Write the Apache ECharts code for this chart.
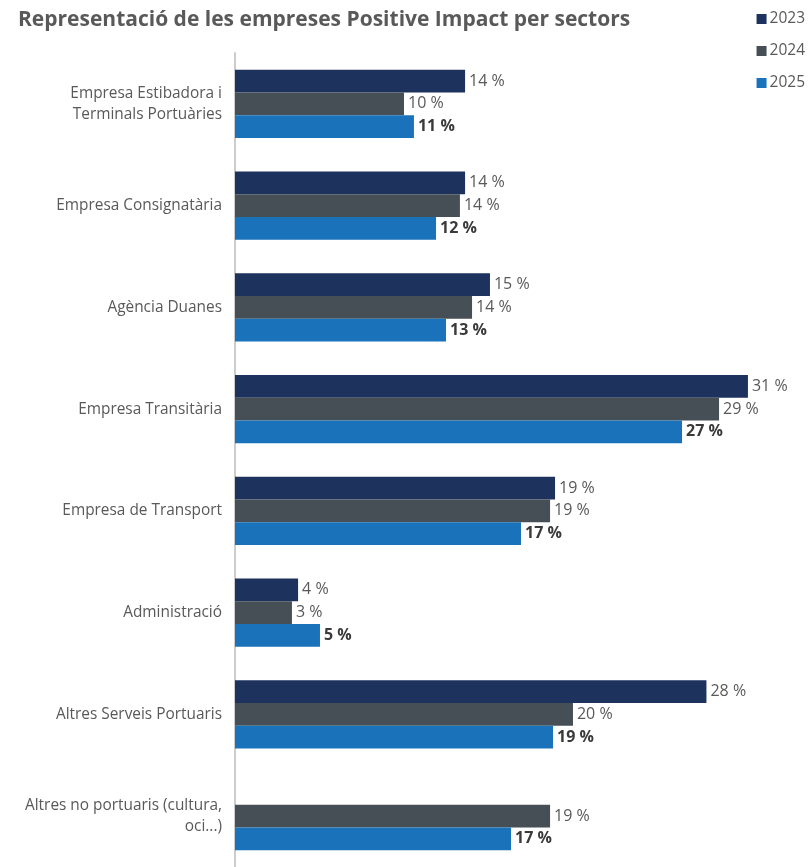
<!DOCTYPE html>
<html>
<head>
<meta charset="utf-8">
<script src="https://cdn.jsdelivr.net/npm/echarts@6/dist/echarts.min.js"></script>
<style>
html,body{margin:0;padding:0;background:#fff;}
#chart{width:810px;height:867px;}
</style>
</head>
<body>
<div id="chart"></div>
<script>
const titleText = 'Representació de les empreses Positive Impact per sectors';
const categories = [
  'Empresa Estibadora i\nTerminals Portuàries',
  'Empresa Consignatària',
  'Agència Duanes',
  'Empresa Transitària',
  'Empresa de Transport',
  'Administració',
  'Altres Serveis Portuaris',
  'Altres no portuaris (cultura,\noci...)'
];
const seriesNames = ['2023', '2024', '2025'];
const values2023 = [13.86, 13.86, 15.36, 30.9, 19.28, 3.8, 28.4, null];
const values2024 = [10.18, 13.55, 14.28, 29.16, 18.98, 3.43, 20.36, 18.98];
const values2025 = [10.78, 12.11, 12.71, 26.93, 17.23, 5.12, 19.16, 16.63];
const colors = ['#1d325d', '#474f56', '#1a73ba'];

const chart = echarts.init(document.getElementById('chart'), null, {renderer: 'canvas'});
const FONT = '"Open Sans", "Noto Sans", sans-serif';

function mkSeries(name, data, color, bold) {
  return {
    name: name,
    type: 'bar',
    data: data,
    barGap: '0%',
    barCategoryGap: '33%',
    itemStyle: {color: color},
    label: {
      show: true,
      position: 'right',
      distance: 4,
      fontFamily: FONT,
      fontSize: 16,
      fontWeight: bold ? 'bold' : 'normal',
      color: bold ? '#3a3a3a' : '#595959',
      formatter: p => (p.value == null ? '' : Math.round(p.value) + ' %')
    },
    emphasis: {disabled: true},
    animation: false
  };
}

chart.setOption({
  animation: false,
  title: {
    text: titleText,
    left: 13,
    top: 5,
    textStyle: {fontFamily: '"Liberation Sans Narrow", "Open Sans", sans-serif', fontSize: 21, fontWeight: 'bold', color: '#595959'}
  },
  legend: {
    data: seriesNames,
    orient: 'vertical',
    right: 0,
    top: 6,
    itemWidth: 10,
    itemHeight: 10,
    itemGap: 16,
    icon: 'rect',
    textStyle: {fontFamily: FONT, fontSize: 15.5, color: '#595959', padding: [0, 0, 0, -2]}
  },
  grid: {left: 235, right: 10.6, top: 53, bottom: -1, containLabel: false},
  xAxis: {
    type: 'value',
    min: 0,
    max: 34,
    show: false
  },
  yAxis: {
    type: 'category',
    data: categories,
    inverse: true,
    axisLine: {show: true, lineStyle: {color: '#cccccc', width: 2}},
    axisTick: {show: false},
    axisLabel: {
      margin: 13,
      fontFamily: FONT,
      fontSize: 15.4,
      color: '#595959',
      align: 'right',
      lineHeight: 21
    }
  },
  series: [
    mkSeries('2023', values2023, colors[0], false),
    mkSeries('2024', values2024, colors[1], false),
    mkSeries('2025', values2025, colors[2], true)
  ]
});
</script>
</body>
</html>
